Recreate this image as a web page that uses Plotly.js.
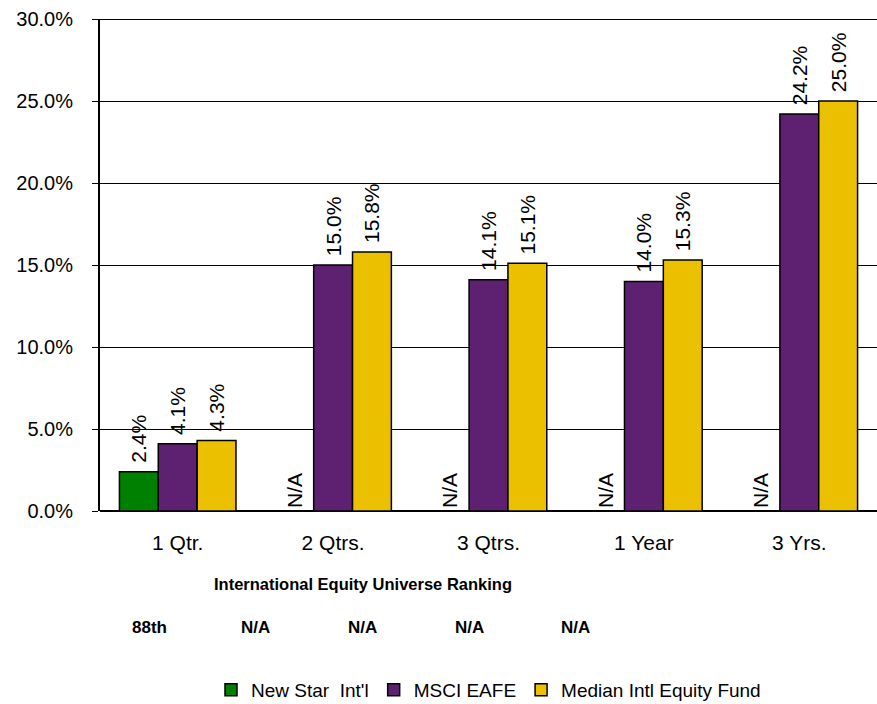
<!DOCTYPE html>
<html><head><meta charset="utf-8">
<script src="https://cdn.plot.ly/plotly-3.0.1.min.js"></script>
<style>html,body{margin:0;padding:0;background:#fff}#chart{width:877px;height:704px}</style>
</head><body><div id="chart"></div>
<script>
const categories = ["1 Qtr.", "2 Qtrs.", "3 Qtrs.", "1 Year", "3 Yrs."];
const newStar = [2.4, 0, 0, 0, 0];
const newStarLabels = ["2.4%", "N/A", "N/A", "N/A", "N/A"];
const msciEafe = [4.1, 15.0, 14.1, 14.0, 24.2];
const medianFund = [4.3, 15.8, 15.1, 15.3, 25.0];
const rankingTitle = "International Equity Universe Ranking";
const rankings = ["88th", "N/A", "N/A", "N/A", "N/A"];
const rankingX = [149, 255, 362, 469, 575];

const FONT = "Liberation Sans, Arial, sans-serif";
const pad = s => (s === "N/A" ? s : "\u00a0" + s);
const pct = v => v.toFixed(1) + "%";

function barTrace(name, y, text, color) {
  return {
    type: "bar", name: name, x: categories, y: y,
    text: text.map(pad), textposition: "outside", textangle: -90,
    constraintext: "none", cliponaxis: false,
    textfont: {family: FONT, size: 21, color: "#000"},
    marker: {color: color, line: {color: "#000", width: 1.5}},
    hoverinfo: "skip"
  };
}

const data = [
  barTrace("New Star  Int'l", newStar, newStarLabels, "#008000"),
  barTrace("MSCI EAFE", msciEafe, msciEafe.map(pct), "#5E2172"),
  barTrace("Median Intl Equity Fund", medianFund, medianFund.map(pct), "#EAC000")
];

const W = 877, PH = 492;
const annotations = [{
  xref: "paper", yref: "paper", x: (363 - 100) / (W - 100), y: -(584 - 511) / PH,
  text: "<b>" + rankingTitle + "</b>", showarrow: false, xanchor: "center", yanchor: "middle",
  font: {family: FONT, size: 16.5, color: "#000"}
}].concat(rankings.map((r, i) => ({
  xref: "paper", yref: "paper", x: (rankingX[i] - 100) / (W - 100), y: -(627 - 511) / PH,
  text: "<b>" + r + "</b>", showarrow: false, xanchor: "center", yanchor: "middle",
  font: {family: FONT, size: 17, color: "#000"}
})));

const layout = {
  width: 877, height: 704,
  margin: {l: 100, r: 0, t: 19, b: 193, autoexpand: false},
  paper_bgcolor: "#fff", plot_bgcolor: "#fff",
  barmode: "group", bargap: 0.25, bargroupgap: 0,
  font: {family: FONT, color: "#000"},
  showlegend: true,
  legend: {orientation: "h", x: 0.5, xanchor: "center", y: -(690 - 511) / PH, yanchor: "middle",
           font: {family: FONT, size: 19, color: "#000"}, itemclick: false, tracegroupgap: 0,
           itemwidth: 30, bgcolor: "rgba(0,0,0,0)"},
  xaxis: {
    type: "category", showgrid: false, zeroline: false,
    showline: false, ticks: "", tickfont: {family: FONT, size: 21, color: "#000"},
    ticklabelstandoff: 17
  },
  yaxis: {
    range: [0, 30], dtick: 5, tickformat: ".1f", ticksuffix: "%",
    showgrid: true, gridcolor: "#000", gridwidth: 1,
    zeroline: true, zerolinecolor: "#000", zerolinewidth: 2,
    showline: true, linecolor: "#000", linewidth: 2,
    ticks: "outside", ticklen: 6, tickcolor: "#000", tickwidth: 1,
    ticklabelstandoff: 15,
    tickfont: {family: FONT, size: 20, color: "#000"}
  },
  shapes: [{type: "line", xref: "paper", yref: "y", x0: 0, x1: 1, y0: 30, y1: 30,
            line: {color: "#000", width: 2}}],
  annotations: annotations
};

Plotly.newPlot("chart", data, layout, {displayModeBar: false, staticPlot: true});
</script>
</body></html>
